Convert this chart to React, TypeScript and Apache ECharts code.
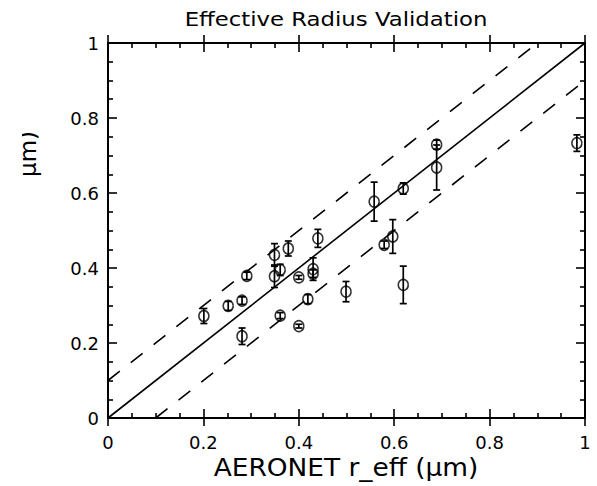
import React, { useEffect, useRef } from "react";
import * as echarts from "echarts";

// AERONET effective radius (x) vs retrieved effective radius (y), in µm
const xValues = [0.201, 0.252, 0.281, 0.291, 0.281, 0.349, 0.349, 0.361, 0.378, 0.361, 0.4, 0.4, 0.43, 0.43, 0.419, 0.44, 0.499, 0.558, 0.619, 0.689, 0.689, 0.579, 0.597, 0.619, 0.983];
const yValues = [0.272, 0.299, 0.313, 0.379, 0.218, 0.435, 0.378, 0.395, 0.452, 0.273, 0.375, 0.245, 0.397, 0.385, 0.317, 0.479, 0.337, 0.577, 0.612, 0.729, 0.668, 0.462, 0.484, 0.355, 0.733];
const yErrors = [0.02, 0.012, 0.01, 0.01, 0.022, 0.03, 0.03, 0.015, 0.02, 0.008, 0.005, 0.005, 0.03, 0.01, 0.012, 0.024, 0.027, 0.052, 0.015, 0.012, 0.06, 0.01, 0.045, 0.05, 0.022];

const oneToOneLine = [[0, 0], [1, 1]];
const upperLine = [[0, 0.1], [0.9, 1]];
const lowerLine = [[0.1, 0], [1, 0.9]];

const titleText = "Effective Radius Validation";
const xAxisTitle = "AERONET r_eff (μm)";
const yAxisTitle = "μm)";

const FONT = "DejaVu Sans";

export default function App() {
  const ref = useRef<HTMLDivElement>(null);

  useEffect(() => {
    if (!ref.current) return;
    const chart = echarts.init(ref.current, null, { renderer: "svg" });

    const base = {
      type: "value" as const,
      min: 0,
      max: 1,
      interval: 0.2,
      splitLine: { show: false },
    };
    const lineStyleAxis = { color: "#000", width: 2 };
    const tickStyle = { color: "#000", width: 1.6 };

    const errorData = xValues.map((x, i) => [x, yValues[i] - yErrors[i], yValues[i] + yErrors[i]]);
    const pointData = xValues.map((x, i) => [x, yValues[i]]);

    chart.setOption({
      animation: false,
      backgroundColor: "#fff",
      grid: { left: 108, top: 43, right: 12, bottom: 68, containLabel: false },
      xAxis: [
        {
          ...base,
          position: "bottom",
          axisLine: { show: true, onZero: false, lineStyle: lineStyleAxis },
          axisTick: { show: true, inside: true, length: 9, lineStyle: tickStyle },
          minorTick: { show: true, splitNumber: 4, length: 5, lineStyle: tickStyle },
          axisLabel: { show: true, color: "#000", fontSize: 18, fontFamily: FONT, margin: 15 },
        },
        {
          ...base,
          position: "bottom",
          axisLine: { show: false, onZero: false },
          axisTick: { show: true, inside: false, length: 8, lineStyle: tickStyle },
          axisLabel: { show: false },
        },
        {
          ...base,
          position: "top",
          axisLine: { show: true, onZero: false, lineStyle: lineStyleAxis },
          axisTick: { show: true, inside: true, length: 9, lineStyle: tickStyle },
          minorTick: { show: true, splitNumber: 4, length: 5, lineStyle: tickStyle },
          axisLabel: { show: false },
        },
        {
          ...base,
          position: "top",
          axisLine: { show: false, onZero: false },
          axisTick: { show: true, inside: false, length: 8, lineStyle: tickStyle },
          axisLabel: { show: false },
        },
      ],
      yAxis: [
        {
          ...base,
          position: "left",
          axisLine: { show: true, onZero: false, lineStyle: lineStyleAxis },
          axisTick: { show: true, inside: true, length: 9, lineStyle: tickStyle },
          minorTick: { show: true, splitNumber: 4, length: 5, lineStyle: tickStyle },
          axisLabel: { show: true, color: "#000", fontSize: 18, fontFamily: FONT, margin: 9 },
        },
        {
          ...base,
          position: "right",
          axisLine: { show: true, onZero: false, lineStyle: lineStyleAxis },
          axisTick: { show: true, inside: true, length: 9, lineStyle: tickStyle },
          minorTick: { show: true, splitNumber: 4, length: 5, lineStyle: tickStyle },
          axisLabel: { show: false },
        },
      ],
      series: [
        {
          type: "line",
          data: oneToOneLine,
          symbol: "none",
          silent: true,
          lineStyle: { color: "#000", width: 1.6 },
        },
        {
          type: "line",
          data: upperLine,
          symbol: "none",
          silent: true,
          lineStyle: { color: "#000", width: 1.6, type: [15, 14] },
        },
        {
          type: "line",
          data: lowerLine,
          symbol: "none",
          silent: true,
          lineStyle: { color: "#000", width: 1.6, type: [15, 14] },
        },
        {
          type: "custom",
          data: errorData,
          encode: { x: 0, y: [1, 2] },
          silent: true,
          renderItem: (params: any, api: any) => {
            const x = api.value(0);
            const lo = api.coord([x, api.value(1)]);
            const hi = api.coord([x, api.value(2)]);
            const w = 3.5;
            const st = { stroke: "#000", lineWidth: 1.7 };
            return {
              type: "group",
              children: [
                { type: "line", shape: { x1: lo[0], y1: lo[1], x2: hi[0], y2: hi[1] }, style: st },
                { type: "line", shape: { x1: hi[0] - w, y1: hi[1], x2: hi[0] + w, y2: hi[1] }, style: st },
                { type: "line", shape: { x1: lo[0] - w, y1: lo[1], x2: lo[0] + w, y2: lo[1] }, style: st },
              ],
            };
          },
        },
        {
          type: "scatter",
          data: pointData,
          symbol: "circle",
          symbolSize: [10, 11],
          silent: true,
          itemStyle: { color: "rgba(0,0,0,0)", borderColor: "#000", borderWidth: 1.6 },
        },
      ],
      graphic: [
        {
          type: "text",
          x: 336,
          y: 20,
          scaleX: 1.2,
          style: {
            text: titleText,
            fontSize: 19,
            fontFamily: FONT,
            fill: "#000",
            align: "center",
            verticalAlign: "middle",
            textAlign: "center",
            textVerticalAlign: "middle",
          },
        },
        {
          type: "text",
          x: 346,
          y: 468,
          scaleX: 1.1,
          style: {
            text: xAxisTitle,
            fontSize: 24,
            fontFamily: FONT,
            fill: "#000",
            align: "center",
            verticalAlign: "middle",
            textAlign: "center",
            textVerticalAlign: "middle",
          },
        },
        {
          type: "text",
          x: 28,
          y: 177,
          rotation: Math.PI / 2,
          z: 10,
          style: {
            text: yAxisTitle,
            fontSize: 23,
            fontFamily: FONT,
            fill: "#000",
            align: "left",
            verticalAlign: "middle",
            textAlign: "left",
            textVerticalAlign: "middle",
          },
        },
        {
          type: "rect",
          z: 20,
          shape: { x: 0, y: 100, width: 22, height: 120 },
          style: { fill: "#fff" },
        },
      ],
    });

    return () => {
      chart.dispose();
    };
  }, []);

  return (
    <div
      ref={ref}
      style={{ position: "absolute", left: 0, top: 0, width: 597, height: 486, background: "#fff" }}
    />
  );
}
